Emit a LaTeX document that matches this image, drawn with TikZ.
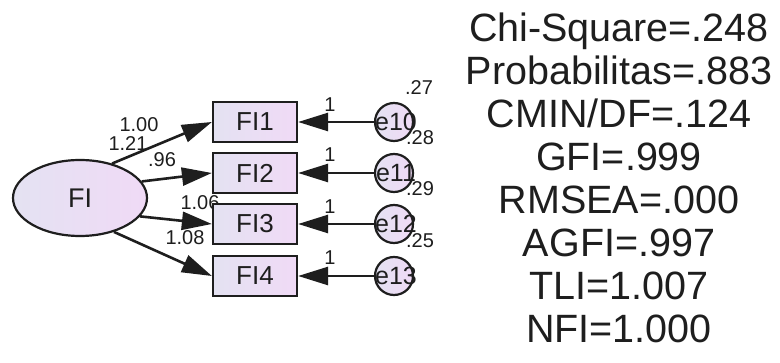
\documentclass[tikz,border=0pt]{standalone}
\usepackage{fontspec}
\setmainfont{Liberation Sans}
\usetikzlibrary{arrows.meta,shapes.geometric}
\definecolor{ink}{HTML}{1E1E1E}
\definecolor{lavL}{HTML}{E4E2F2}
\definecolor{lavR}{HTML}{F0DAF6}
\begin{document}
\begin{tikzpicture}[x=1pt,y=-1pt,
  obs/.style={draw=ink,line width=2.2pt,minimum width=84pt,minimum height=40pt,inner sep=0pt,left color=lavL,right color=lavR,font=\fontsize{26}{26}\selectfont,text=ink},
  lat/.style={ellipse,draw=ink,line width=2.2pt,minimum width=134pt,minimum height=76pt,inner sep=0pt,left color=lavL,right color=lavR,font=\fontsize{27}{27}\selectfont,text=ink},
  err/.style={circle,draw=ink,line width=2.2pt,minimum size=38pt,inner sep=0pt,left color=lavL,right color=lavR},
  errtxt/.style={font=\fontsize{25}{25}\selectfont,text=ink,inner sep=0pt},
  lbl/.style={font=\fontsize{20}{20}\selectfont,text=ink,inner sep=0pt},
  fit/.style={font=\fontsize{39.5}{43}\selectfont,text=ink,inner sep=0pt,anchor=base},
  path/.style={draw=ink,line width=2.6pt,-{Triangle[length=30pt,width=18pt]}}
]
\useasboundingbox[fill=white] (0,0) rectangle (780,363);

% loading labels (drawn first, partly covered)
\node[lbl] (l1) at (139,125) {1.00};
\node[lbl] (l2) at (128,144) {1.21};
\node[lbl] (l3) at (162,160) {.96};
\node[lbl] (l4) at (200,203) {1.06};
\node[lbl] (l5) at (185,238) {1.08};

% latent
\node[lat] (FI) at (80,198) {FI};

% observed
\node[obs] (FI1) at (255,122) {FI1};
\node[obs] (FI2) at (255,173) {FI2};
\node[obs] (FI3) at (255,224) {FI3};
\node[obs] (FI4) at (255,276) {FI4};

% errors
\node[err] (e10) at (394,122) {};
\node[err] (e11) at (394,173) {};
\node[err] (e12) at (394,224) {};
\node[err] (e13) at (394,276) {};

% paths from latent
\draw[path] (FI.47) -- (FI1.west);
\draw[path] (FI.15) -- (FI2.west);
\draw[path] (FI.-17) -- (FI3.west);
\draw[path] (FI.-45) -- (FI4.west);

% error paths
\draw[path] (e10.west) -- (FI1.east);
\draw[path] (e11.west) -- (FI2.east);
\draw[path] (e12.west) -- (FI3.east);
\draw[path] (e13.west) -- (FI4.east);

% error texts
\node[errtxt] (t10) at (396,122) {e10};
\node[errtxt] (t11) at (396,173) {e11};
\node[errtxt] (t12) at (396,224) {e12};
\node[errtxt] (t13) at (396,276) {e13};

% "1" labels
\node[lbl] (o1) at (330,105) {1};
\node[lbl] (o2) at (330,155) {1};
\node[lbl] (o3) at (330,207) {1};
\node[lbl] (o4) at (330,258) {1};

% variances
\node[lbl] (v1) at (419,88) {.27};
\node[lbl] (v2) at (420,138) {.28};
\node[lbl] (v3) at (420,189) {.29};
\node[lbl] (v4) at (420,241) {.25};

% fit indices
\node[fit] (f1) at (619,42) {Chi-Square=.248};
\node[fit] (f2) at (619,85) {Probabilitas=.883};
\node[fit] (f3) at (619,128) {CMIN/DF=.124};
\node[fit] (f4) at (619,171) {GFI=.999};
\node[fit] (f5) at (619,214) {RMSEA=.000};
\node[fit] (f6) at (619,257) {AGFI=.997};
\node[fit] (f7) at (619,300) {TLI=1.007};
\node[fit] (f8) at (619,343) {NFI=1.000};
\end{tikzpicture}
\end{document}
